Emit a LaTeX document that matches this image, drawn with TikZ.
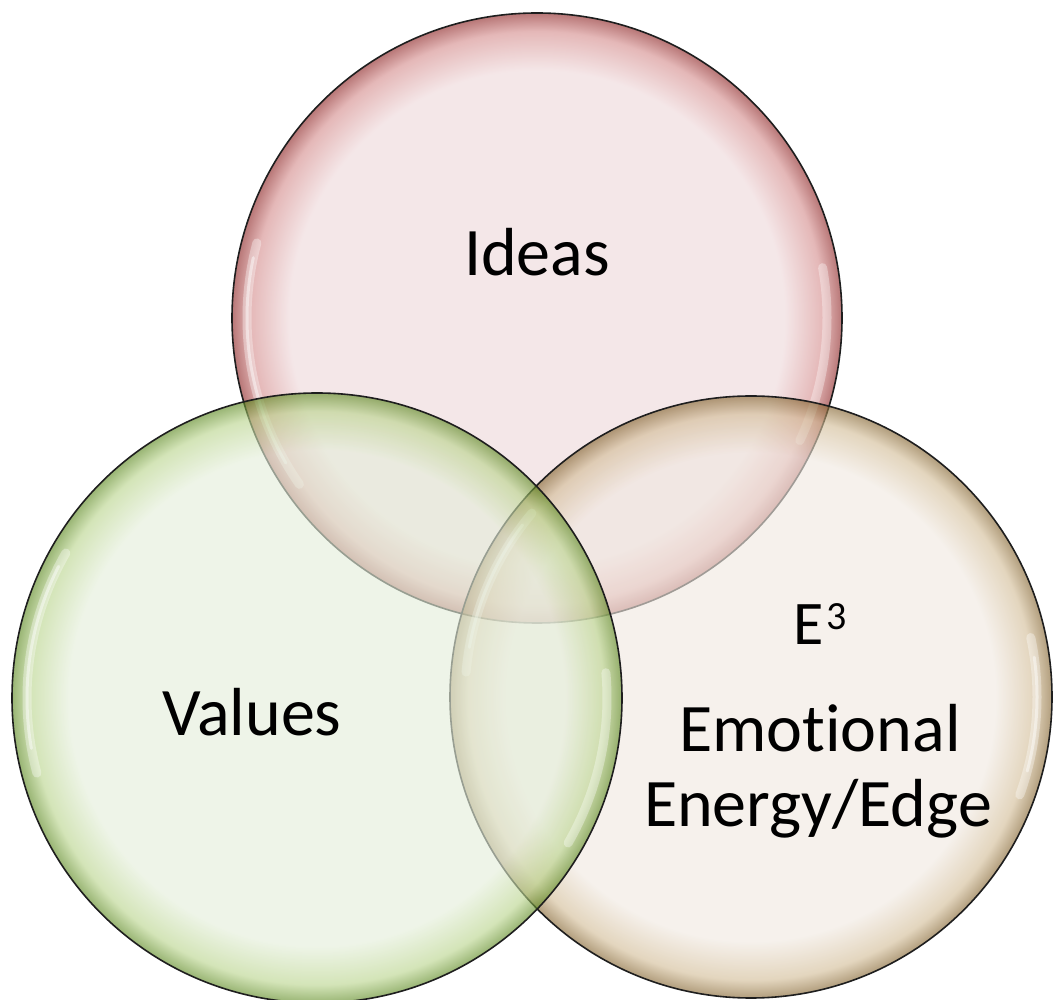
\documentclass[tikz,border=0pt]{standalone}
\usepackage{fontspec}
\setmainfont{Carlito}[Ligatures={NoCommon,NoRare,NoContextual}]
\definecolor{ideasin}{RGB}{238,216,218}
\definecolor{ideasmid}{RGB}{212,140,140}
\definecolor{ideasedge}{RGB}{140,35,35}
\definecolor{valin}{RGB}{228,238,218}
\definecolor{valmid}{RGB}{185,212,140}
\definecolor{valedge}{RGB}{90,135,30}
\definecolor{emoin}{RGB}{240,232,224}
\definecolor{emomid}{RGB}{210,188,150}
\definecolor{emoedge}{RGB}{130,98,45}
\definecolor{rim}{RGB}{30,30,30}
\pgfdeclareradialshading{ideasshade}{\pgfpoint{0bp}{0bp}}{color(0bp)=(ideasin); color(20.3bp)=(ideasin); color(23.5bp)=(ideasmid); color(25bp)=(ideasedge); color(50bp)=(ideasedge)}
\pgfdeclareradialshading{valshade}{\pgfpoint{0bp}{0bp}}{color(0bp)=(valin); color(20.3bp)=(valin); color(23.5bp)=(valmid); color(25bp)=(valedge); color(50bp)=(valedge)}
\pgfdeclareradialshading{emoshade}{\pgfpoint{0bp}{0bp}}{color(0bp)=(emoin); color(20.3bp)=(emoin); color(23.5bp)=(emomid); color(25bp)=(emoedge); color(50bp)=(emoedge)}
\tikzset{
  bubble/.style={circle, inner sep=0pt, minimum size=#1, fill opacity=0.62, draw=rim, draw opacity=1, line width=1.6pt},
  gloss/.style={white, line width=9pt, opacity=0.35, line cap=round},
  glosscore/.style={white, line width=3pt, opacity=0.45, line cap=round},
  label/.style={font=\fontsize{68}{80}\selectfont, anchor=base, text=black, inner sep=0pt}
}
\begin{document}
\begin{tikzpicture}[x=1pt,y=1pt]
\useasboundingbox (0,0) rectangle (1055,999);
% Ideas
\node[bubble=610pt, shading=ideasshade] (ideas) at (537,681) {};
\draw[gloss] ([shift={(165:290)}]ideas.center) arc[start angle=165, end angle=215, radius=290];
\draw[glosscore] ([shift={(168:290)}]ideas.center) arc[start angle=168, end angle=210, radius=290];
\draw[gloss] ([shift={(-25:290)}]ideas.center) arc[start angle=-25, end angle=10, radius=290];
% Emotional energy
\node[bubble=602pt, shading=emoshade] (emo) at (751,302) {};
\draw[gloss] ([shift={(140:286)}]emo.center) arc[start angle=140, end angle=175, radius=286];
\draw[glosscore] ([shift={(143:286)}]emo.center) arc[start angle=143, end angle=170, radius=286];
\draw[gloss] ([shift={(-20:286)}]emo.center) arc[start angle=-20, end angle=12, radius=286];
\draw[glosscore] ([shift={(-15:286)}]emo.center) arc[start angle=-15, end angle=8, radius=286];
% Values
\node[bubble=610pt, shading=valshade] (values) at (317,301) {};
\draw[gloss] ([shift={(150:290)}]values.center) arc[start angle=150, end angle=195, radius=290];
\draw[glosscore] ([shift={(153:290)}]values.center) arc[start angle=153, end angle=190, radius=290];
\draw[gloss] ([shift={(-30:290)}]values.center) arc[start angle=-30, end angle=5, radius=290];
% labels
\node[label] (tIdeas) at (537,723) {Ideas};
\node[label] (tValues) at (252,263) {Values};
\node[label, font=\fontsize{62}{72}\selectfont] (tE) at (820,354) {E\kern2pt\raisebox{15pt}{\fontsize{40}{46}\selectfont 3}};
\node[label] (tEmo) at (820,247) {Emot\kern0pt ional};
\node[label] (tEdge) at (818,172) {Energy/Edge};
\end{tikzpicture}
\end{document}
